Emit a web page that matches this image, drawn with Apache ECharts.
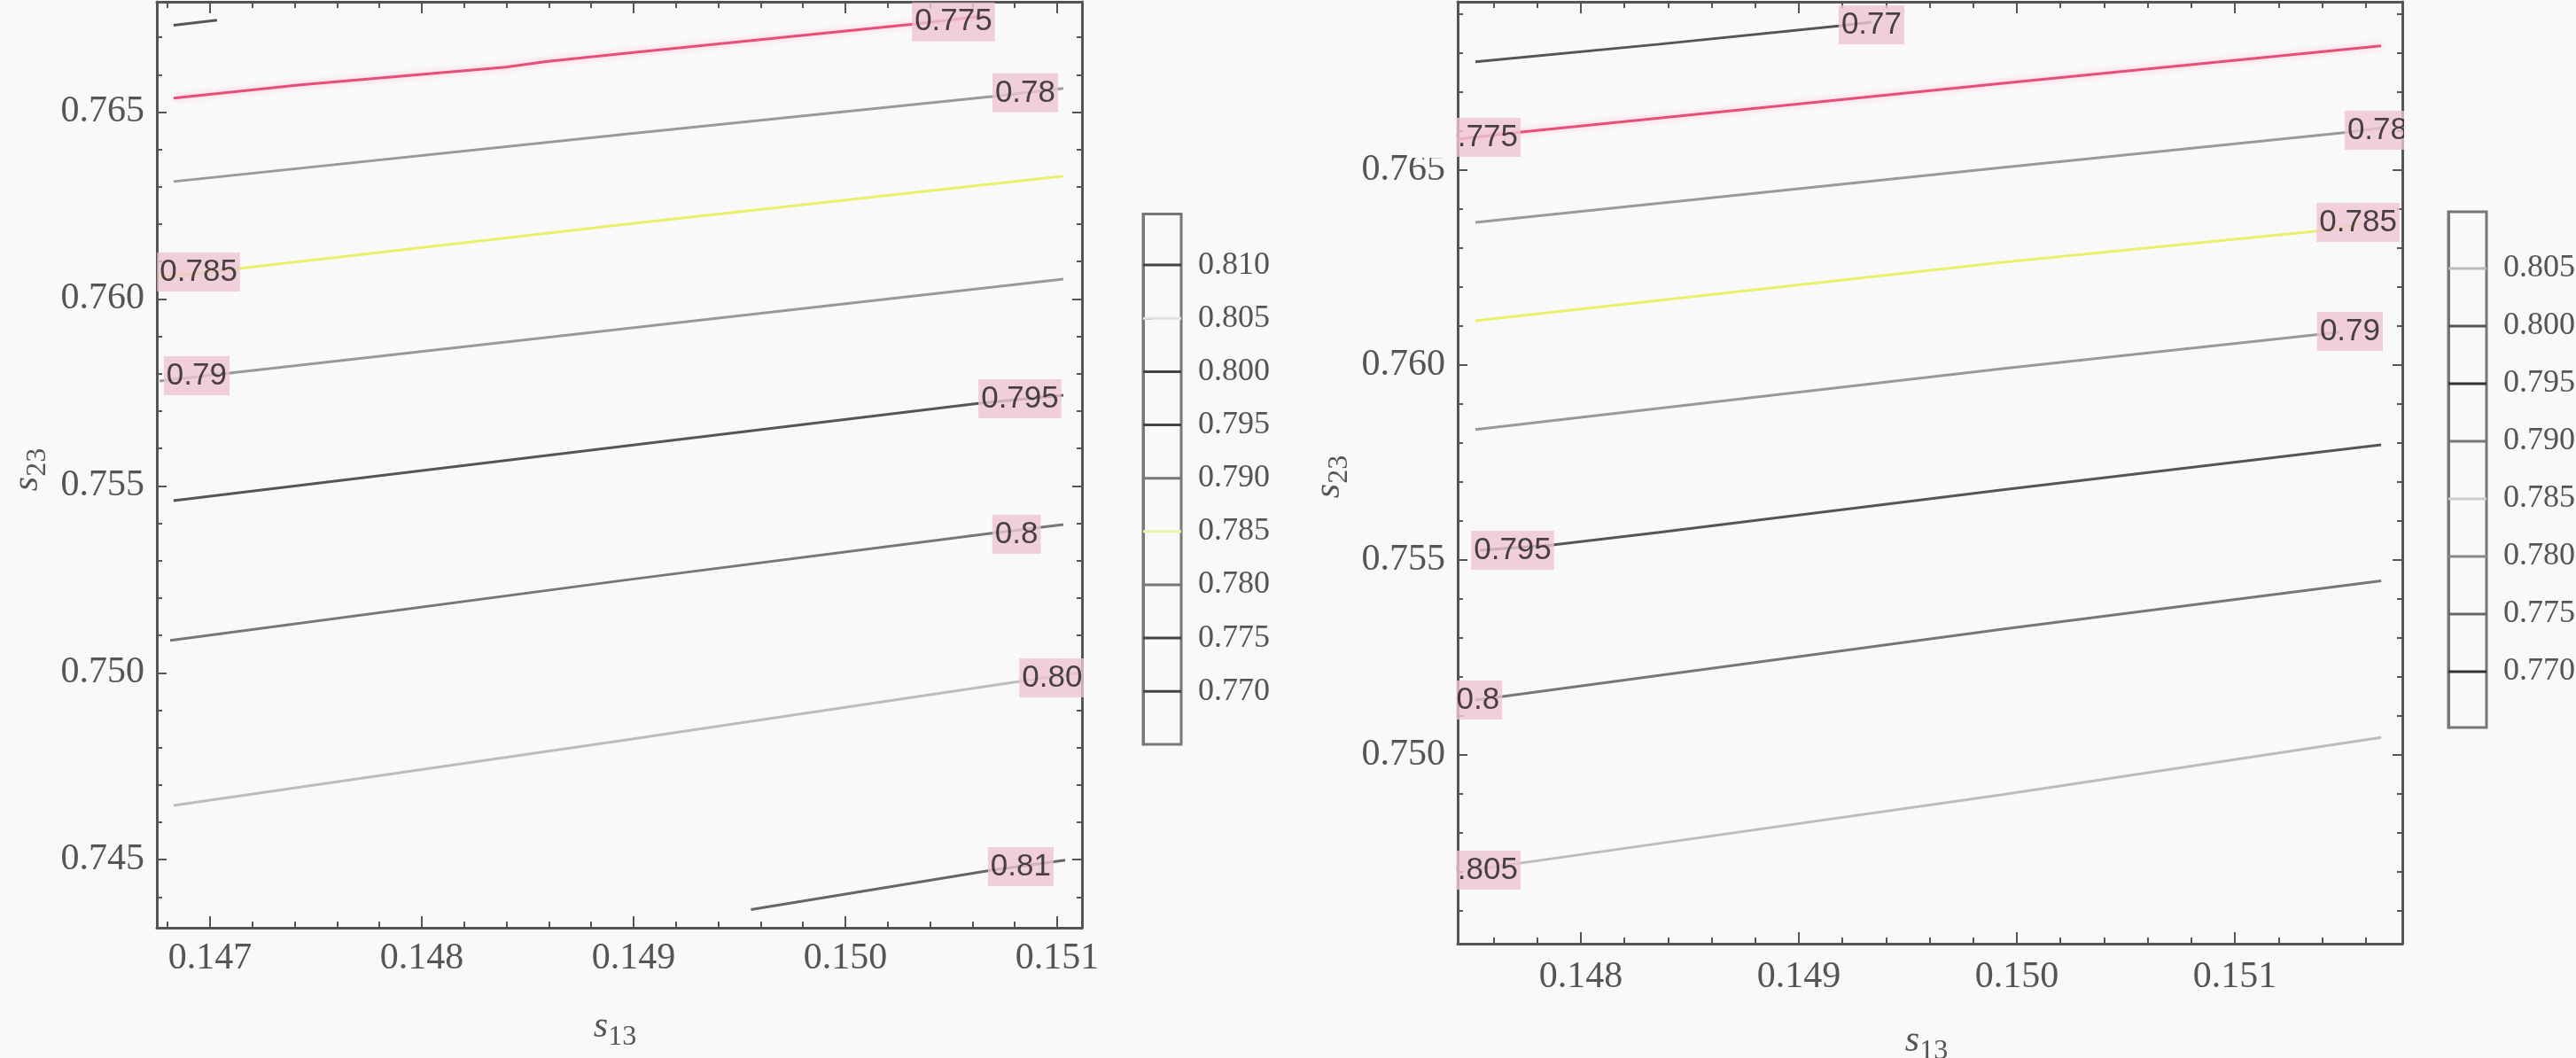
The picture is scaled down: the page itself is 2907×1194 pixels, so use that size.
<!DOCTYPE html>
<html><head><meta charset="utf-8">
<style>html,body{margin:0;padding:0;background:#f9f9f9}#c{width:2907px;height:1194px}</style>
<script src="https://cdn.jsdelivr.net/npm/echarts@6/dist/echarts.min.js"></script>
</head><body><div id="c"></div><script>
// ================= DATA =================
// axis ranges (s13 horizontal, s23 vertical)
const leftXRange  = [0.146749, 0.151117];
const leftYRange  = [0.74318, 0.76795];
const rightXRange = [0.147435, 0.151768];
const rightYRange = [0.74516, 0.76932];

// ---- Left panel contour paths [s13, s23] ----
const L770 = [[0.146828,0.76732],[0.147033,0.76746]];
const L775 = [[0.146828,0.76537],[0.147427,0.76573],[0.148397,0.76620],[0.148586,0.76635],[0.148937,0.76656],[0.150331,0.76736],[0.150653,0.76757]];
const L780 = [[0.146828,0.763141],[0.148937,0.764396],[0.150699,0.765417],[0.151029,0.765631]];
const L785 = [[0.146762,0.76058],[0.147138,0.760818],[0.148937,0.761980],[0.151029,0.763284]];
const L790 = [[0.146762,0.757807],[0.147075,0.758009],[0.148937,0.759194],[0.151029,0.760533]];
const L795 = [[0.146828,0.754606],[0.148937,0.756053],[0.150636,0.757215],[0.151029,0.757428]];
const L800 = [[0.146812,0.750868],[0.148937,0.752463],[0.150699,0.753741],[0.151029,0.753966]];
const L805 = [[0.146828,0.746451],[0.148937,0.748182],[0.150766,0.749722],[0.151117,0.750005]];
const L810 = [[0.149554,0.743665],[0.150685,0.744713],[0.151038,0.744986]];
const leftLabels = [
  [0.150510,0.767409,'0.775'],
  [0.150849,0.765512,'0.78'],
  [0.146946,0.760723,'0.785'],
  [0.146937,0.757949,'0.79'],
  [0.150824,0.757333,'0.795'],
  [0.150808,0.753706,'0.8'],
  [0.151017,0.749865,'0.805'],
  [0.150828,0.744815,'0.81']
];

// ---- Right panel contour paths ----
const R770 = [[0.147516,0.767780],[0.148360,0.768232],[0.149203,0.768711],[0.149333,0.768800]];
const R775 = [[0.147435,0.765795],[0.147707,0.765968],[0.149935,0.767227],[0.151671,0.768189]];
const R780 = [[0.147516,0.763659],[0.149935,0.765068],[0.151510,0.765968],[0.151683,0.766091]];
const R785 = [[0.147516,0.761136],[0.149935,0.762636],[0.151390,0.763443],[0.151565,0.763614]];
const R790 = [[0.147516,0.758348],[0.149935,0.759909],[0.151382,0.760786],[0.151480,0.760841]];
const R795 = [[0.147537,0.755250],[0.147870,0.755386],[0.148360,0.755709],[0.149935,0.756802],[0.151671,0.757957]];
const R800 = [[0.147516,0.751409],[0.147642,0.751500],[0.149935,0.753227],[0.151671,0.754468]];
const R805 = [[0.147516,0.747068],[0.147707,0.747214],[0.149935,0.748982],[0.151671,0.750448]];
const rightLabels = [
  [0.149333,0.768727,'0.77'],
  [0.147533,0.765841,'0.775'],
  [0.151654,0.766023,'0.78'],
  [0.151565,0.763659,'0.785'],
  [0.151528,0.760864,'0.79'],
  [0.147687,0.755250,'0.795'],
  [0.147528,0.751409,'0.8'],
  [0.147533,0.747045,'0.805']
];

// ---- Colour bar legends ----
const cbLeftLevels  = [0.770,0.775,0.780,0.785,0.790,0.795,0.800,0.805,0.810];
const cbLeftRange   = [0.76503, 0.81479];
const cbRightLevels = [0.770,0.775,0.780,0.785,0.790,0.795,0.800,0.805];
const cbRightRange  = [0.76515, 0.80992];

// ================= STYLE =================
const BG = '#f9f9f9', AX = '#555';
const serif = "'Liberation Serif','Times New Roman',serif";
const sans = "'Liberation Sans',Arial,sans-serif";
const fmt3 = v => v.toFixed(3);
const PINK = '#e4507a', YEL = '#e9f06a';

const leftPaths = [
  [L770,'#555'],[L775,PINK],[L780,'#9a9a9a'],[L785,YEL],[L790,'#999'],
  [L795,'#555'],[L800,'#777'],[L805,'#bdbdbd'],[L810,'#666']
];
const rightPaths = [
  [R770,'#555'],[R775,PINK],[R780,'#9a9a9a'],[R785,YEL],[R790,'#999'],
  [R795,'#555'],[R800,'#777'],[R805,'#bdbdbd']
];
const cbLeftColors  = ['#444','#444','#777','#eef3a8','#777','#444','#444','#e2e2e2','#444'];
const cbRightColors = ['#333','#666','#888','#cfcfcf','#777','#333','#555','#bbb'];

function xAx(gi, range, pos, showLabel, margin){
  return {gridIndex:gi, type:'value', min:range[0], max:range[1], position:pos,
    axisLine:{show:true,onZero:false,lineStyle:{color:AX,width:3}},
    axisTick:{show:true,inside:true,length:13,lineStyle:{color:AX,width:2}},
    minorTick:{show:true,splitNumber:5,length:7,lineStyle:{color:AX,width:2}},
    splitLine:{show:false}, minorSplitLine:{show:false},
    axisLabel:{show:showLabel,showMinLabel:false,showMaxLabel:false,formatter:fmt3,
      fontFamily:serif,fontSize:42,color:AX,margin:margin||14}};
}
function yAx(gi, range, pos, showLabel){
  return {gridIndex:gi, type:'value', min:range[0], max:range[1], position:pos,
    axisLine:{show:true,onZero:false,lineStyle:{color:AX,width:3}},
    axisTick:{show:true,inside:true,length:11,lineStyle:{color:AX,width:2}},
    minorTick:{show:true,splitNumber:5,length:6,lineStyle:{color:AX,width:2}},
    splitLine:{show:false}, minorSplitLine:{show:false},
    axisLabel:{show:showLabel,showMinLabel:false,showMaxLabel:false,formatter:fmt3,
      fontFamily:serif,fontSize:42,color:AX,margin:14}};
}
function cbX(gi){ return {gridIndex:gi,type:'value',min:0,max:1,show:false}; }
function cbY(gi, range){
  return {gridIndex:gi,type:'value',min:range[0],max:range[1],position:'right',splitNumber:10,
    axisLine:{show:true,lineStyle:{color:'#777',width:3}},
    axisTick:{show:true,inside:false,length:10,lineStyle:{color:'#888',width:2}},
    splitLine:{show:false},
    axisLabel:{showMinLabel:false,showMaxLabel:false,formatter:fmt3,fontFamily:serif,fontSize:36,color:AX,margin:19}};
}

const series = [];
function addPaths(paths, idx){
  paths.forEach(([d,c]) => series.push({type:'line',xAxisIndex:idx,yAxisIndex:idx,data:d,symbol:'none',
    silent:true,z:2,lineStyle:{color:c,width:3,
      shadowColor: c===PINK ? 'rgba(255,170,200,0.8)' : 'transparent', shadowBlur: c===PINK?6:0}}));
}
function addLabels(lbl, idx){
  series.push({type:'scatter',xAxisIndex:idx,yAxisIndex:idx,symbolSize:1,silent:true,z:4,
    itemStyle:{color:'rgba(0,0,0,0)'},
    data:lbl.map(d=>({value:[d[0],d[1]],name:d[2]})),
    label:{show:true,position:'inside',formatter:p=>p.name,fontFamily:sans,fontSize:35,
      color:'#1b1b1b',backgroundColor:'#efc4d2',padding:[3,3,1,3],lineHeight:40}});
}
function addBar(levels, colors, idx){
  levels.forEach((v,i)=>series.push({type:'line',xAxisIndex:idx,yAxisIndex:idx,data:[[0,v],[1,v]],
    symbol:'none',silent:true,lineStyle:{color:colors[i],width:3}}));
}
addPaths(leftPaths,0); addLabels(leftLabels,0);
addBar(cbLeftLevels,cbLeftColors,2);
addPaths(rightPaths,3); addLabels(rightLabels,3);
addBar(cbRightLevels,cbRightColors,5);

function axTitle(x,y,rot,sub){
  return {type:'text',x:x,y:y,rotation:rot,z:120,
    style:{text:'{i|s}{s|'+sub+'}',align:'center',verticalAlign:'middle',
      rich:{i:{fontFamily:serif,fontStyle:'italic',fontSize:42,fill:AX,lineHeight:56,verticalAlign:'middle'},
            s:{fontFamily:serif,fontSize:32,fill:AX,lineHeight:24,verticalAlign:'bottom'}}}};
}
function cover(x,y,w,h){ return {type:'rect',z:100,shape:{x,y,width:w,height:h},style:{fill:BG}}; }

const chart = echarts.init(document.getElementById('c'), null, {renderer:'canvas'});
chart.setOption({
  animation:false,
  backgroundColor:BG,
  grid:[
    {left:177,top:2,width:1044,height:1045,outerBoundsMode:'none'},
    {left:1290,top:241.5,width:43,height:598.5,show:true,borderColor:'#777',borderWidth:3,outerBoundsMode:'none'},
    {left:1645,top:2,width:1066,height:1063,outerBoundsMode:'none'},
    {left:2763,top:239,width:43,height:582,show:true,borderColor:'#777',borderWidth:3,outerBoundsMode:'none'}
  ],
  xAxis:[
    xAx(0,leftXRange,'bottom',true,14), xAx(0,leftXRange,'top',false),
    cbX(1),
    xAx(2,rightXRange,'bottom',true,17), xAx(2,rightXRange,'top',false),
    cbX(3)
  ],
  yAxis:[
    yAx(0,leftYRange,'left',true), yAx(0,leftYRange,'right',false),
    cbY(1,cbLeftRange),
    yAx(2,rightYRange,'left',true), yAx(2,rightYRange,'right',false),
    cbY(3,cbRightRange)
  ],
  series:series,
  graphic:[
    cover(1223,0,64,1060),
    cover(1590,128,53.5,50), cover(1590,765,53.5,52), cover(1590,958,53.5,50),
    cover(2713,118,46,60),
    axTitle(694,1159,0,'13'), axTitle(2174,1175,0,'13'),
    axTitle(31,530,Math.PI/2,'23'), axTitle(1500,538,Math.PI/2,'23')
  ]
});
</script></body></html>
